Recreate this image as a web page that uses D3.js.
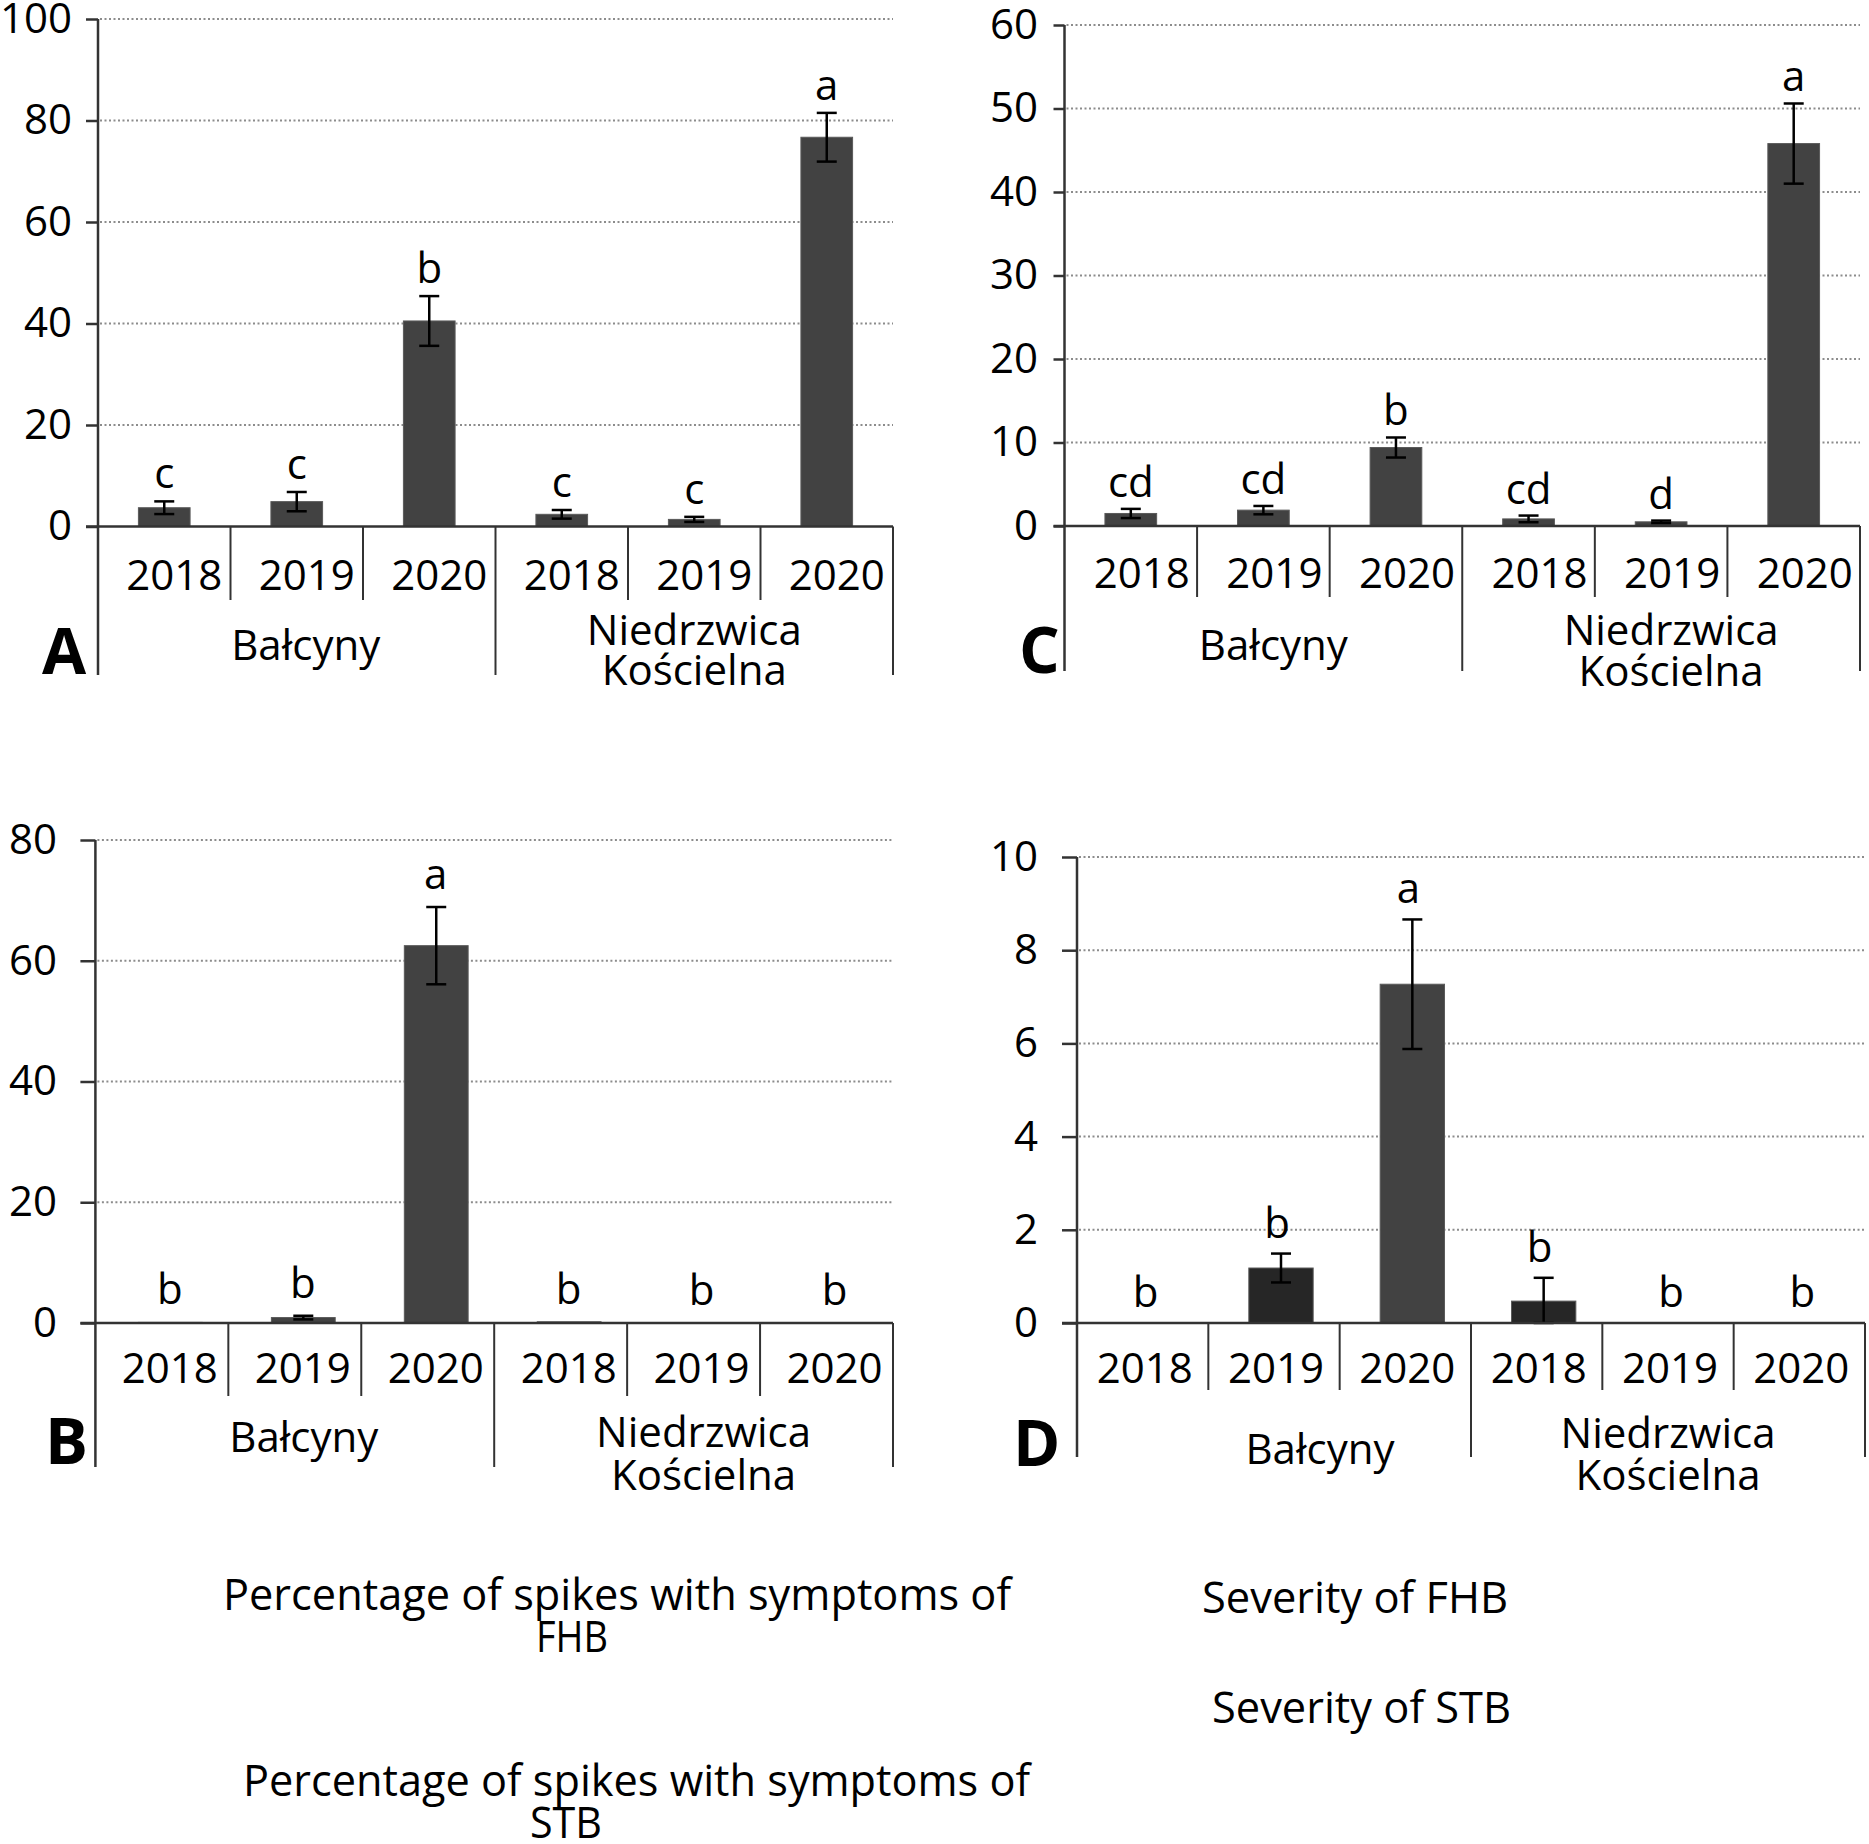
<!DOCTYPE html>
<html>
<head>
<meta charset="utf-8">
<script src="https://cdn.jsdelivr.net/npm/d3@7"></script>
<style>
  body { margin: 0; background: #fff; }
  text { font-family: "Open Sans", sans-serif; fill: #000; }
</style>
</head>
<body>
<svg id="chart" width="1869" height="1844"></svg>
<script>
// categories
var years = ["2018", "2019", "2020", "2018", "2019", "2020"];
var sites = [["Bałcyny"], ["Niedrzwica", "Kościelna"]];

// A - percentage of spikes with FHB symptoms
var fhbSpikes = [3.7, 4.9, 40.5, 2.4, 1.4, 76.7];
var fhbSpikesErr = [1.25, 1.9, 4.9, 0.85, 0.5, 4.8];
var fhbSpikesLetters = ["c", "c", "b", "c", "c", "a"];

// B - percentage of spikes with STB symptoms
var stbSpikes = [0.1, 0.9, 62.5, 0.2, 0, 0];
var stbSpikesErr = [0, 0.3, 6.4, 0, 0, 0];
var stbSpikesLetters = ["b", "b", "a", "b", "b", "b"];

// C - severity of FHB
var fhbSeverity = [1.5, 1.9, 9.4, 0.85, 0.5, 45.8];
var fhbSeverityErr = [0.55, 0.5, 1.2, 0.4, 0.15, 4.8];
var fhbSeverityLetters = ["cd", "cd", "b", "cd", "d", "a"];

// D - severity of STB
var stbSeverity = [0, 1.18, 7.27, 0.47, 0, 0];
var stbSeverityErr = [0, 0.31, 1.39, 0.5, 0, 0];
var stbSeverityLetters = ["b", "b", "a", "b", "b", "b"];

var svg = d3.select("#chart");

// layout of the four panels
var panels = [
    { tag: "A", values: fhbSpikes, errs: fhbSpikesErr, letters: fhbSpikesLetters, max: 100, step: 20,
      left: 98, right: 893, top: 19, base: 526.5, barRatio: 0.39, labelRight: 72, tickLen: 12,
      yearY: 590, yearSep: 600, groupSep: 675, siteY: [[660], [645, 685]], tagX: 42, tagY: 674, gap: 13,
      barDx: 0, letterDx: 0, yearDx: 10, siteDx: [9, 0] },
    { tag: "C", values: fhbSeverity, errs: fhbSeverityErr, letters: fhbSeverityLetters, max: 60, step: 10,
      left: 1064.5, right: 1860, top: 25, base: 526, barRatio: 0.39, labelRight: 1038, tickLen: 11,
      yearY: 588, yearSep: 597, groupSep: 671, siteY: [[660], [645, 686]], tagX: 1019, tagY: 673, gap: 12,
      barDx: 0, letterDx: 0, yearDx: 11, siteDx: [10, 10] },
    { tag: "B", values: stbSpikes, errs: stbSpikesErr, letters: stbSpikesLetters, max: 80, step: 20,
      left: 95.4, right: 893, top: 840, base: 1323, barRatio: 0.48, labelRight: 57, tickLen: 15,
      yearY: 1383, yearSep: 1396, groupSep: 1467, siteY: [[1452], [1447, 1490]], tagX: 45, tagY: 1464, gap: 18,
      barDx: 8.5, letterDx: 8, yearDx: 8, siteDx: [9, 10] },
    { tag: "D", values: stbSeverity, errs: stbSeverityErr, letters: stbSeverityLetters, max: 10, step: 2,
      left: 1077, right: 1865, top: 857, base: 1323, barRatio: 0.49, labelRight: 1038, tickLen: 15,
      yearY: 1383, yearSep: 1390, groupSep: 1457, siteY: [[1464], [1448, 1490]], tagX: 1013, tagY: 1466, gap: 16,
      barDx: 7, letterDx: 3, yearDx: 2, siteDx: [46, 0], dark: [1, 3] }
];

panels.forEach(function(p) {
    var g = svg.append("g");
    var idx = d3.range(p.values.length);

    var x = d3.scaleBand().domain(idx).range([p.left, p.right]).padding(0);
    var y = d3.scaleLinear().domain([0, p.max]).range([p.base, p.top]);
    var ticks = d3.range(0, p.max + p.step / 2, p.step);
    var mid = function(i) { return x(i) + x.bandwidth() / 2 + p.barDx; };

    // dotted gridlines
    g.append("g")
        .selectAll("line")
        .data(ticks.slice(1))
        .enter().append("line")
            .attr("x1", p.left + 2).attr("x2", p.right)
            .attr("y1", function(d) { return y(d); })
            .attr("y2", function(d) { return y(d); })
            .attr("stroke", "#8c8c8c")
            .attr("stroke-width", 2)
            .attr("stroke-dasharray", "2,2.5");

    // y axis
    var yAxis = g.append("g")
        .attr("transform", "translate(" + p.left + ",0)")
        .call(d3.axisLeft(y).tickValues(ticks).tickSize(p.tickLen)
            .tickPadding(p.left - p.tickLen - p.labelRight).tickFormat(d3.format("d")));
    yAxis.select(".domain").remove();
    yAxis.selectAll(".tick line").attr("stroke", "#333").attr("stroke-width", 2.5);
    yAxis.selectAll(".tick text")
        .attr("font-family", "Open Sans")
        .attr("font-size", 42)
        .attr("fill", "#000");

    // bars
    g.selectAll(".bar")
        .data(p.values)
        .enter().append("rect")
            .attr("class", "bar")
            .attr("x", function(d, i) { return mid(i) - x.bandwidth() * p.barRatio / 2; })
            .attr("width", x.bandwidth() * p.barRatio)
            .attr("y", function(d) { return y(d); })
            .attr("height", function(d) { return y(0) - y(d); })
            .attr("fill", function(d, i) { return p.dark && p.dark.indexOf(i) >= 0 ? "#262626" : "#424242"; })
            .attr("stroke", "#5a5a5a")
            .attr("stroke-width", 1);

    // error bars
    var eb = g.selectAll(".err")
        .data(idx.filter(function(i) { return p.errs[i] > 0; }))
        .enter().append("g")
            .attr("class", "err")
            .attr("stroke", "#000")
            .attr("stroke-width", 2.5);
    eb.append("line")
        .attr("x1", mid)
        .attr("x2", mid)
        .attr("y1", function(i) { return y(p.values[i] + p.errs[i]); })
        .attr("y2", function(i) { return y(Math.max(0, p.values[i] - p.errs[i])); });
    [1, -1].forEach(function(s) {
        eb.append("line")
            .attr("x1", function(i) { return mid(i) - 10; })
            .attr("x2", function(i) { return mid(i) + 10; })
            .attr("y1", function(i) { return y(Math.max(0, p.values[i] + s * p.errs[i])); })
            .attr("y2", function(i) { return y(Math.max(0, p.values[i] + s * p.errs[i])); });
    });

    // significance letters
    g.selectAll(".letter")
        .data(p.letters)
        .enter().append("text")
            .attr("class", "letter")
            .attr("x", function(d, i) { return x(i) + x.bandwidth() / 2 + p.letterDx; })
            .attr("y", function(d, i) { return y(p.values[i] + p.errs[i]) - p.gap; })
            .attr("text-anchor", "middle")
            .attr("font-size", 42)
            .text(function(d) { return d; });

    // x axis baseline
    g.append("line")
        .attr("x1", p.left - p.tickLen).attr("x2", p.right)
        .attr("y1", y(0)).attr("y2", y(0))
        .attr("stroke", "#333").attr("stroke-width", 2.5);

    // vertical axis line and category separators
    g.append("line")
        .attr("x1", p.left).attr("x2", p.left)
        .attr("y1", y(p.max)).attr("y2", p.groupSep)
        .attr("stroke", "#333").attr("stroke-width", 2.5);
    g.selectAll(".sep")
        .data(d3.range(1, p.values.length + 1))
        .enter().append("line")
            .attr("class", "sep")
            .attr("x1", function(i) { return i < p.values.length ? x(i) : p.right; })
            .attr("x2", function(i) { return i < p.values.length ? x(i) : p.right; })
            .attr("y1", y(0))
            .attr("y2", function(i) { return i % 3 === 0 ? p.groupSep : p.yearSep; })
            .attr("stroke", "#333").attr("stroke-width", 2);

    // year labels
    g.selectAll(".year")
        .data(years)
        .enter().append("text")
            .attr("class", "year")
            .attr("x", function(d, i) { return x(i) + x.bandwidth() / 2 + p.yearDx; })
            .attr("y", p.yearY)
            .attr("text-anchor", "middle")
            .attr("font-size", 42)
            .text(function(d) { return d; });

    // site labels
    sites.forEach(function(lines, s) {
        var cx = (x(s * 3) + (s === 0 ? x(3) : p.right)) / 2 + p.siteDx[s];
        lines.forEach(function(t, k) {
            g.append("text")
                .attr("x", cx)
                .attr("y", p.siteY[s][k])
                .attr("text-anchor", "middle")
                .attr("font-size", 42)
                .text(t);
        });
    });

    // panel tag
    g.append("text")
        .attr("x", p.tagX)
        .attr("y", p.tagY)
        .attr("font-size", 64)
        .attr("font-weight", "bold")
        .text(p.tag);
});

// captions underneath
var captions = [
    { text: "Percentage of spikes with symptoms of", x: 223, y: 1610, w: 788 },
    { text: "FHB", x: 536, y: 1652, w: 72 },
    { text: "Severity of FHB", x: 1202, y: 1613, w: 306 },
    { text: "Severity of STB", x: 1212, y: 1723, w: 299 },
    { text: "Percentage of spikes with symptoms of", x: 243, y: 1796, w: 787 },
    { text: "STB", x: 530, y: 1838, w: 72 }
];
svg.selectAll(".caption")
    .data(captions)
    .enter().append("text")
        .attr("class", "caption")
        .attr("x", function(d) { return d.x; })
        .attr("y", function(d) { return d.y; })
        .attr("font-size", 44)
        .attr("textLength", function(d) { return d.w; })
        .attr("lengthAdjust", "spacingAndGlyphs")
        .text(function(d) { return d.text; });
</script>
</body>
</html>
